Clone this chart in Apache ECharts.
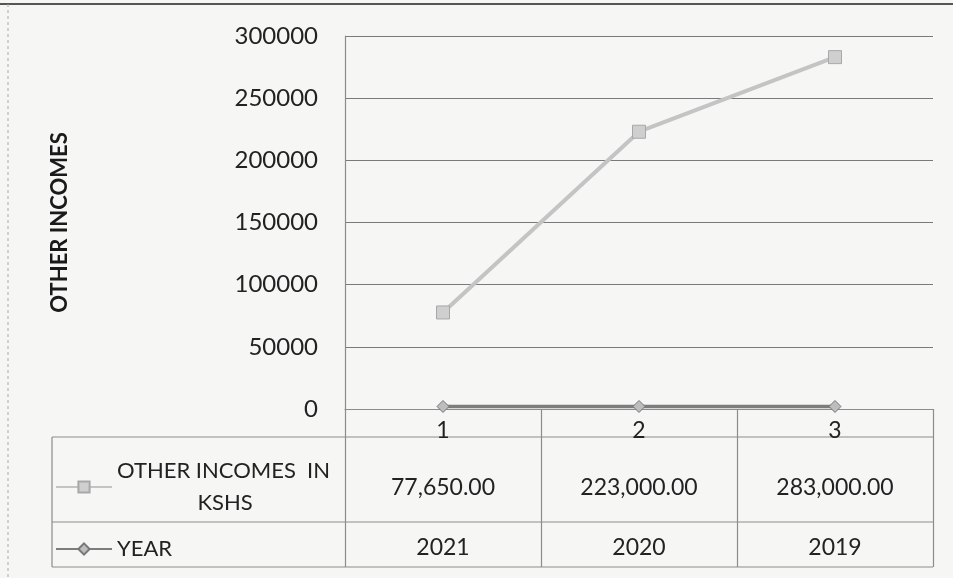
<!DOCTYPE html>
<html>
<head>
<meta charset="utf-8">
<script src="https://cdn.jsdelivr.net/npm/echarts@6/dist/echarts.min.js"></script>
<style>
  html, body { margin: 0; padding: 0; background: #f6f6f4; }
  #main { width: 953px; height: 578px; }
</style>
</head>
<body>
<div id="main"></div>
<script>
var categories = ['1', '2', '3'];
var incomes = [77650, 223000, 283000];
var incomeLabels = ['77,650.00', '223,000.00', '283,000.00'];
var years = [2021, 2020, 2019];

var chartDom = document.getElementById('main');
var myChart = echarts.init(chartDom);
var font = 'Lato, "Open Sans", sans-serif';
var txt = '#222';
var lineCol = '#8c8c8c';

// table row axes share the category scale of the plot
function rowAxis(labels, gap) {
  return {
    type: 'category',
    data: labels,
    position: 'bottom',
    offset: gap,
    axisLine: { show: false },
    axisTick: { show: false },
    axisLabel: { margin: 0, fontSize: 23, color: txt, fontFamily: font, interval: 0 }
  };
}

function hline(y) {
  return { type: 'line', shape: { x1: 52, y1: y, x2: 933, y2: y }, style: { stroke: lineCol, lineWidth: 1.2 } };
}

var option = {
  backgroundColor: '#f6f6f4',
  animation: false,
  grid: { left: 345, right: 20, top: 36, bottom: 169 },
  legend: {
    orient: 'vertical',
    left: 50,
    top: 455,
    itemGap: 24,
    itemWidth: 56,
    itemHeight: 14,
    selectedMode: false,
    data: ['OTHER INCOMES  IN KSHS', 'YEAR'],
    formatter: function (name) {
      if (name === 'YEAR') return '{a|YEAR}';
      return '{a|OTHER INCOMES  IN}\n{b|KSHS}';
    },
    textStyle: {
      color: txt,
      fontFamily: font,
      fontSize: 22,
      rich: {
        a: { fontSize: 22, fontFamily: font, color: txt, lineHeight: 32, width: 216, align: 'left' },
        b: { fontSize: 22, fontFamily: font, color: txt, lineHeight: 32, width: 216, align: 'center' }
      }
    }
  },
  xAxis: [
    {
      type: 'category',
      data: categories,
      boundaryGap: true,
      axisLine: { lineStyle: { color: lineCol, width: 1.2 } },
      axisTick: { show: true, interval: 0, length: 158, lineStyle: { color: lineCol, width: 1.2 } },
      axisLabel: { margin: 10, fontSize: 23, color: txt, fontFamily: font }
    },
    rowAxis(incomeLabels, 67),
    rowAxis(years.map(String), 127)
  ],
  yAxis: {
    type: 'value',
    min: 0,
    max: 300000,
    interval: 50000,
    name: 'OTHER INCOMES',
    nameLocation: 'middle',
    nameRotate: 90,
    nameGap: 274,
    nameTextStyle: { fontSize: 22, fontWeight: 'bold', color: '#1a1a1a', fontFamily: font },
    axisLine: { show: true, lineStyle: { color: lineCol, width: 1.2 } },
    axisTick: { show: false },
    axisLabel: { margin: 27, fontSize: 24, color: txt, fontFamily: font, formatter: function (v) { return String(v); } },
    splitLine: { lineStyle: { color: '#7a7a7a', width: 1.2 } }
  },
  graphic: [
    { type: 'line', shape: { x1: 0, y1: 4, x2: 953, y2: 4 }, style: { stroke: '#555', lineWidth: 2 } },
    { type: 'line', shape: { x1: 8, y1: 4, x2: 8, y2: 578 }, style: { stroke: '#aaa', lineWidth: 1, lineDash: [3, 3] } },
    hline(437),
    hline(522),
    hline(567),
    { type: 'line', shape: { x1: 52, y1: 437, x2: 52, y2: 567 }, style: { stroke: lineCol, lineWidth: 1.2 } }
  ],
  series: [
    {
      name: 'OTHER INCOMES  IN KSHS',
      type: 'line',
      data: incomes,
      symbol: 'rect',
      symbolSize: 13,
      lineStyle: { color: '#c4c4c4', width: 4 },
      itemStyle: { color: '#cfcfcf', borderColor: '#a8a8a8', borderWidth: 1 }
    },
    {
      name: 'YEAR',
      type: 'line',
      data: years,
      symbol: 'diamond',
      symbolSize: 12,
      lineStyle: { color: '#7d7d7d', width: 3.5 },
      itemStyle: { color: '#bdbdbd', borderColor: '#777', borderWidth: 1 }
    }
  ]
};

option && myChart.setOption(option);
</script>
</body>
</html>
